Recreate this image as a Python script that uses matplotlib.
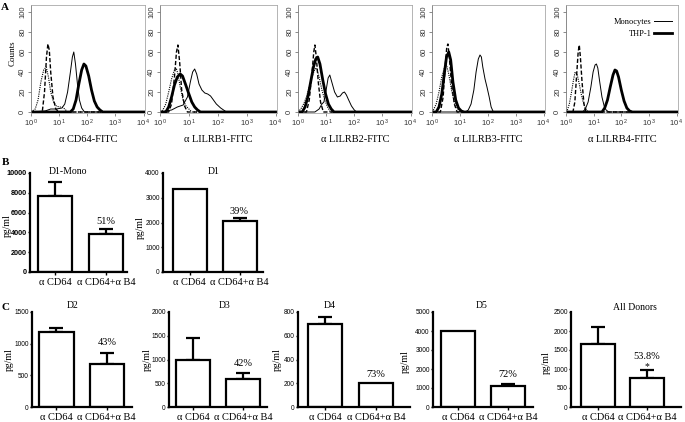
import numpy as np
import matplotlib
matplotlib.use("Agg")
import matplotlib.pyplot as plt
from matplotlib.ticker import NullLocator

W, H = 685, 422
SERIF = ["Liberation Serif", "DejaVu Serif"]
SANS = ["Liberation Sans", "DejaVu Sans"]

# ---------------- Panel A data (log10 fluorescence, counts) ----------------
hist_titles = ["\u03b1 CD64-FITC", "\u03b1 LILRB1-FITC", "\u03b1 LILRB2-FITC",
               "\u03b1 LILRB3-FITC", "\u03b1 LILRB4-FITC"]

# isotype control (monocytes) - dotted
iso_mono_lx = [
    [0, 0.15, 0.25, 0.35, 0.45, 0.54, 0.62, 0.7, 0.8, 0.9, 1.0, 1.1, 1.2, 1.3, 4.0],
    [0, 0.1, 0.2, 0.3, 0.4, 0.5, 0.56, 0.62, 0.7, 0.8, 0.9, 1.0, 1.1, 4.0],
    [0, 0.1, 0.2, 0.3, 0.4, 0.5, 0.6, 0.66, 0.75, 0.85, 0.95, 1.05, 1.15, 4.0],
    [0, 0.05, 0.15, 0.25, 0.35, 0.45, 0.52, 0.6, 0.7, 0.8, 0.9, 1.0, 4.0],
    [0, 0.05, 0.12, 0.2, 0.27, 0.33, 0.4, 0.48, 0.55, 0.62, 0.7, 0.8, 4.0],
]
iso_mono_y = [
    [0, 3, 12, 30, 42, 45, 35, 20, 10, 6, 5, 5, 3, 0, 0],
    [0, 2, 8, 20, 33, 42, 44, 38, 25, 12, 6, 3, 0, 0],
    [0, 3, 8, 15, 25, 35, 43, 44, 35, 22, 12, 5, 0, 0],
    [0, 2, 8, 20, 35, 45, 47, 38, 22, 10, 4, 0, 0],
    [0, 2, 8, 20, 32, 40, 38, 28, 18, 10, 4, 0, 0],
]
# isotype control (THP-1) - dashed
iso_thp_lx = [
    [0, 0.4, 0.48, 0.55, 0.6, 0.65, 0.7, 0.78, 0.88, 1.0, 4.0],
    [0, 0.3, 0.4, 0.5, 0.57, 0.62, 0.68, 0.75, 0.85, 0.95, 4.0],
    [0, 0.3, 0.4, 0.5, 0.56, 0.6, 0.65, 0.72, 0.8, 0.9, 4.0],
    [0, 0.3, 0.4, 0.47, 0.53, 0.57, 0.62, 0.7, 0.8, 0.9, 4.0],
    [0, 0.25, 0.32, 0.38, 0.44, 0.48, 0.52, 0.58, 0.65, 0.72, 4.0],
]
iso_thp_y = [
    [0, 0, 20, 55, 68, 62, 40, 15, 3, 0, 0],
    [0, 0, 8, 35, 60, 67, 50, 22, 6, 0, 0],
    [0, 0, 12, 40, 60, 67, 55, 30, 10, 0, 0],
    [0, 0, 15, 45, 65, 68, 55, 28, 8, 0, 0],
    [0, 0, 10, 35, 60, 67, 55, 30, 8, 0, 0],
]
# Monocytes - thin solid
mono_lx = [
    [0, 0.5, 0.7, 0.9, 1.1, 1.2, 1.3, 1.4, 1.47, 1.52, 1.58, 1.65, 1.72, 1.8, 1.9, 4.0],
    [0, 0.4, 0.6, 0.8, 0.95, 1.05, 1.13, 1.2, 1.27, 1.35, 1.45, 1.55, 1.65, 1.75, 1.85, 1.95, 2.1, 2.3, 4.0],
    [0, 0.6, 0.75, 0.85, 0.92, 1.0, 1.07, 1.13, 1.2, 1.3, 1.4, 1.5, 1.58, 1.65, 1.72, 1.8, 1.9, 2.0, 2.08, 4.0],
    [0, 1.2, 1.3, 1.4, 1.5, 1.58, 1.66, 1.72, 1.77, 1.82, 1.9, 1.97, 2.05, 2.12, 2.2, 4.0],
    [0, 0.6, 0.7, 0.8, 0.9, 0.98, 1.05, 1.1, 1.15, 1.22, 1.3, 1.38, 1.45, 1.55, 4.0],
]
mono_y = [
    [0, 1, 3, 3, 4, 8, 20, 40, 55, 60, 48, 28, 12, 4, 0, 0],
    [0, 2, 5, 7, 15, 30, 40, 43, 38, 28, 22, 19, 18, 16, 12, 8, 4, 0, 0],
    [0, 0, 3, 8, 10, 22, 34, 37, 30, 20, 15, 16, 19, 20, 17, 12, 6, 2, 0, 0],
    [0, 0, 2, 8, 22, 40, 53, 57, 55, 45, 33, 25, 15, 5, 0, 0],
    [0, 0, 3, 10, 25, 40, 47, 48, 44, 30, 15, 6, 2, 0, 0],
]
# THP-1 - thick solid
thp_lx = [
    [0, 1.4, 1.5, 1.6, 1.7, 1.8, 1.88, 1.95, 2.05, 2.15, 2.25, 2.35, 2.45, 2.55, 4.0],
    [0, 0.2, 0.3, 0.4, 0.5, 0.6, 0.7, 0.78, 0.88, 1.0, 1.1, 1.2, 1.3, 1.4, 4.0],
    [0, 0.15, 0.25, 0.35, 0.45, 0.55, 0.63, 0.7, 0.78, 0.88, 0.98, 1.08, 1.18, 1.28, 4.0],
    [0, 0.15, 0.25, 0.35, 0.45, 0.52, 0.6, 0.67, 0.75, 0.85, 0.95, 1.05, 1.15, 4.0],
    [0, 1.3, 1.4, 1.5, 1.6, 1.7, 1.77, 1.83, 1.9, 2.0, 2.1, 2.2, 2.3, 2.4, 4.0],
]
thp_y = [
    [0, 0, 3, 12, 28, 42, 48, 46, 36, 22, 11, 5, 2, 0, 0],
    [0, 0, 5, 15, 27, 35, 38, 36, 28, 18, 10, 5, 2, 0, 0],
    [0, 0, 5, 15, 30, 45, 53, 55, 48, 32, 18, 8, 3, 0, 0],
    [0, 0, 5, 18, 40, 55, 60, 52, 30, 12, 4, 1, 0, 0],
    [0, 0, 4, 12, 25, 37, 42, 41, 35, 22, 11, 4, 1, 0, 0],
]
hist_yticks = [0, 20, 40, 60, 80, 100]
hist_xticks = [1, 10, 100, 1000, 10000]
hist_xticklabels = [r"$\mathregular{10^{\,0}}$", r"$\mathregular{10^{\,1}}$",
                    r"$\mathregular{10^{\,2}}$", r"$\mathregular{10^{\,3}}$",
                    r"$\mathregular{10^{\,4}}$"]

# ---------------- Panels B / C data ----------------
bar_titles = ["D1-Mono", "D1", "D2", "D3", "D4", "D5", "All Donors"]
bar_categories = ["\u03b1 CD64", "\u03b1 CD64+\u03b1 B4"]
bar_means = [[7700, 3850], [3350, 2070], [1180, 680], [1000, 600],
             [700, 200], [4000, 1100], [1650, 770]]
bar_err_top = [[9100, 4350], [3350, 2180], [1250, 860], [1450, 710],
               [760, 200], [4000, 1220], [2100, 980]]
bar_pct = ["51%", "39%", "43%", "42%", "73%", "72%", "53.8%"]
bar_ymax = [10000, 4000, 1500, 2000, 800, 5000, 2500]
bar_ystep = [2000, 1000, 500, 500, 200, 1000, 500]

# ---------------- layout (pixels) ----------------
hist_boxes = [(31, 5, 145, 113), (160, 5, 277, 113), (298, 5, 412, 113),
              (432, 5, 545, 113), (566, 5, 678, 113)]
bar_boxes = [(30, 173, 127, 272), (163, 173, 263, 272),
             (32, 312, 132, 407), (169, 312, 267, 407), (298, 312, 410, 407),
             (433, 312, 533, 407), (571, 312, 681, 407)]
bar_xlims = [(0.51, 2.41), (0.47, 2.47), (0.515, 2.5), (0.52, 2.48),
             (0.47, 2.67), (0.5, 2.5), (0.45, 2.69)]
bar_title_pos = [(68, 171), (214, 171), (73, 305), (225, 305), (330, 305),
                 (482, 306), (635, 307)]
bar_ylabel_pos = [(7, 226), (140, 228), (9, 360), (147, 360), (277, 360),
                  (405, 362), (546, 363)]
pct_offset = [5, 5, 7, 7, 6, 7, 9.5]

fig = plt.figure(figsize=(W / 100, H / 100), dpi=100)


def px_axes(box):
    l, t, r, b = box
    return fig.add_axes([l / W, 1 - b / H, (r - l) / W, (b - t) / H])


# ---------------- Panel A ----------------
gray = "#a8a8a8"
for i in range(5):
    ax = px_axes(hist_boxes[i])
    ax.plot(10 ** np.array(iso_mono_lx[i]), iso_mono_y[i], color="black",
            lw=0.8, ls=(0, (1, 1)))
    ax.plot(10 ** np.array(iso_thp_lx[i]), iso_thp_y[i], color="black",
            lw=1.0, ls=(0, (3, 1.5)))
    l1, = ax.plot(10 ** np.array(mono_lx[i]), mono_y[i], color="black", lw=0.7,
                  label="Monocytes")
    l2, = ax.plot(10 ** np.array(thp_lx[i]), thp_y[i], color="black", lw=2.0,
                  label="THP-1")
    ax.set_xscale("log")
    ax.set_xlim(1, 10 ** 4.05)
    ax.set_ylim(-1, 107)
    ax.xaxis.set_minor_locator(NullLocator())
    ax.set_xticks(hist_xticks)
    ax.set_xticklabels(hist_xticklabels, fontsize=5.5, color="#333333",
                       family=SANS)
    ax.set_yticks(hist_yticks)
    ax.set_yticklabels([str(v) for v in hist_yticks], rotation=90, va="center",
                       fontsize=5.5, color="#333333", family=SANS)
    ax.tick_params(axis="both", length=2, width=0.6, color="#777777", pad=1.5)
    for s in ax.spines.values():
        s.set_color(gray)
        s.set_linewidth(0.6)
    ax.spines["left"].set_color("#777777")
    ax.set_xlabel(hist_titles[i], fontsize=7.5, family=SERIF, labelpad=4)
    if i == 0:
        fig.text(13 / W, 1 - 53 / H, "Counts", rotation=90, ha="center",
                 va="center", fontsize=6.5, family=SERIF)
    if i == 4:
        ax.legend(handles=[l1, l2], loc="upper right", frameon=False,
                  markerfirst=False, prop={"family": SERIF, "size": 6},
                  handlelength=2.2, handletextpad=0.3, labelspacing=0.4,
                  borderaxespad=0.3, bbox_to_anchor=(1.0, 0.93))

# ---------------- Panels B / C ----------------
for k in range(7):
    ax = px_axes(bar_boxes[k])
    xs = [1, 2]
    ax.bar(xs, bar_means[k], width=0.68, color="white", edgecolor="black",
           linewidth=1.6, zorder=2)
    for j in range(2):
        if bar_err_top[k][j] > bar_means[k][j]:
            ax.errorbar(xs[j], bar_means[k][j],
                        yerr=[[0], [bar_err_top[k][j] - bar_means[k][j]]],
                        fmt="none", ecolor="black", elinewidth=1.6,
                        capsize=5, capthick=1.6, zorder=1)
    ax.set_xlim(*bar_xlims[k])
    ax.set_ylim(0, bar_ymax[k])
    ax.set_yticks(np.arange(0, bar_ymax[k] + 1, bar_ystep[k]))
    ax.set_xticks(xs)
    ax.set_xticklabels(bar_categories, fontsize=7.5, family=SERIF)
    for sp in ["top", "right"]:
        ax.spines[sp].set_visible(False)
    for sp in ["left", "bottom"]:
        ax.spines[sp].set_linewidth(1.6)
    ax.tick_params(axis="y", length=1.5, width=1.0, pad=0.8, labelsize=4.7)
    ax.tick_params(axis="x", length=2, width=1.0, pad=2.5)
    for lab in ax.get_yticklabels():
        lab.set_family(SANS)
        if k == 0:
            lab.set_fontweight("bold")
            lab.set_fontsize(5.2)
    top = max(bar_err_top[k][1], bar_means[k][1])
    ax.annotate(bar_pct[k], xy=(2, top), xytext=(0, pct_offset[k]),
                textcoords="offset points", ha="center", va="center",
                fontsize=7.5, family=SERIF)
    if k == 6:
        ax.annotate("*", xy=(2, top), xytext=(0, 2.0),
                    textcoords="offset points", ha="center", va="center",
                    fontsize=7, family=SERIF)
    tx, ty = bar_title_pos[k]
    fig.text(tx / W, 1 - ty / H, bar_titles[k], ha="center", va="center",
             fontsize=7, family=SERIF)
    lx, ly = bar_ylabel_pos[k]
    fig.text(lx / W, 1 - ly / H, "pg/ml", rotation=90, ha="center",
             va="center", fontsize=7, family=SERIF)

for letter, (x, y) in zip(["A", "B", "C"], [(5, 7), (5, 162), (5, 307)]):
    fig.text(x / W, 1 - y / H, letter, ha="center", va="center", fontsize=8,
             fontweight="bold", family=SERIF)

fig.savefig("out.png", dpi=100)
